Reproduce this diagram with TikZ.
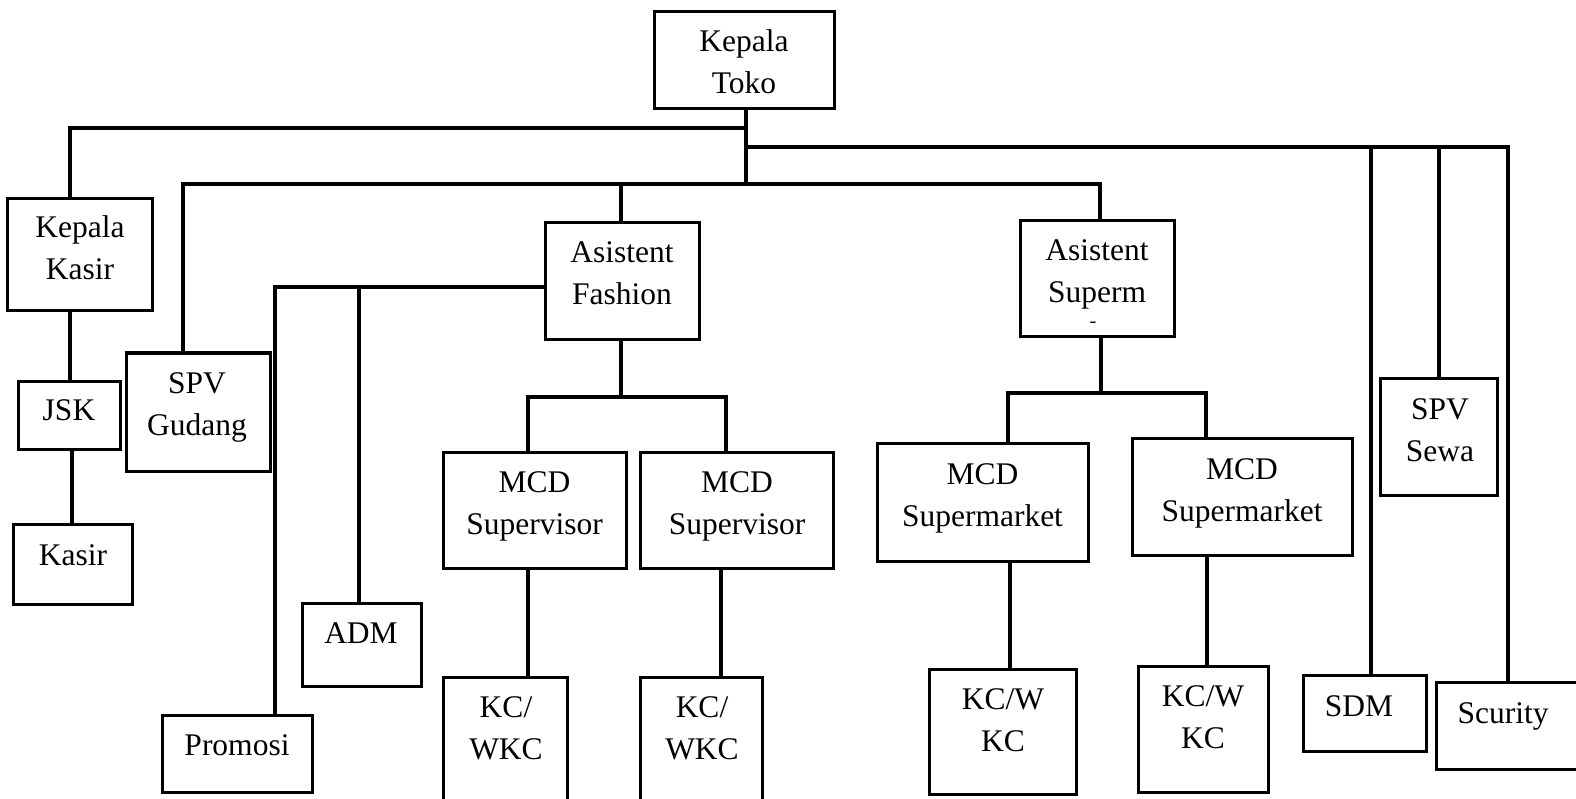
\documentclass[tikz,border=0pt]{standalone}
\usepackage{fontspec}
\setmainfont{Liberation Serif}
\begin{document}
\begin{tikzpicture}[x=1pt,y=-1pt,
  box/.style={draw=black, line width=3pt, inner sep=0pt, fill=none},
  conn/.style={draw=black, line width=4pt},
  txt/.style={inner sep=0pt, anchor=base, align=center, text width=260pt,
    font=\fontsize{31.5}{42}\selectfont},
  dashtxt/.style={inner sep=0pt, font=\fontsize{20}{20}\selectfont}]
\useasboundingbox (0,0) rectangle (1576,799);
\fill[white] (0,0) rectangle (1576,799);
\clip (0,0) rectangle (1576,799);

% boxes
\node[box, minimum width=180, minimum height=97]  (kt)   at (744,60.5)   {};
\node[box, minimum width=145, minimum height=112] (kk)   at (79.5,255)   {};
\node[box, minimum width=102, minimum height=68]  (jsk)  at (69,415)     {};
\node[box, minimum width=119, minimum height=80]  (ks)   at (72.5,564)   {};
\node[box, minimum width=144, minimum height=118] (spvg) at (198,412)    {};
\node[box, minimum width=154, minimum height=117] (af)   at (622,281.5)  {};
\node[box, minimum width=154, minimum height=116] (as)   at (1097,279)   {};
\node[box, minimum width=119, minimum height=83]  (adm)  at (361.5,644.5){};
\node[box, minimum width=150, minimum height=77]  (pr)   at (237,753.5)  {};
\node[box, minimum width=183, minimum height=116] (ms1)  at (534.5,510)  {};
\node[box, minimum width=193, minimum height=116] (ms2)  at (736.5,510)  {};
\node[box, minimum width=211, minimum height=118] (mm1)  at (982.5,502)  {};
\node[box, minimum width=220, minimum height=117] (mm2)  at (1242,496.5) {};
\node[box, minimum width=124, minimum height=153] (kw1)  at (505,753.5)  {};
\node[box, minimum width=122, minimum height=153] (kw2)  at (701,753.5)  {};
\node[box, minimum width=147, minimum height=125] (kw3)  at (1002.5,731.5){};
\node[box, minimum width=130, minimum height=126] (kw4)  at (1203,729)   {};
\node[box, minimum width=117, minimum height=117] (spvs) at (1438.5,436.5){};
\node[box, minimum width=123, minimum height=76]  (sdm)  at (1364.5,713) {};
\node[box, minimum width=164, minimum height=87]  (sc)   at (1518,725.5) {};

% texts
\node[txt] (tkt)   at (744,52)    {Kepala\\Toko};
\node[txt] (tkk)   at (80,238)    {Kepala\\Kasir};
\node[txt] (tjsk)  at (69,420)    {JSK};
\node[txt] (tks)   at (73,565)    {Kasir};
\node[txt] (tspvg) at (197,393)   {SPV\\Gudang};
\node[txt] (taf)   at (622,263)   {Asistent\\Fashion};
\node[txt] (tas)   at (1097,261)  {Asistent\\Superm};
\node[dashtxt] (tdash) at (1093,325) {-};
\node[txt] (tadm)  at (361,643)   {ADM};
\node[txt] (tpr)   at (237,755)   {Promosi};
\node[txt] (tms1)  at (534.5,492) {MCD\\Supervisor};
\node[txt] (tms2)  at (737,492)   {MCD\\Supervisor};
\node[txt] (tmm1)  at (982.5,484) {MCD\\Supermarket};
\node[txt] (tmm2)  at (1242,479)  {MCD\\Supermarket};
\node[txt] (tkw1)  at (506,717)   {KC/\\WKC};
\node[txt] (tkw2)  at (702,717)   {KC/\\WKC};
\node[txt] (tkw3)  at (1003,709)  {KC/W\\KC};
\node[txt] (tkw4)  at (1203,706)  {KC/W\\KC};
\node[txt] (tspvs) at (1440,419)  {SPV\\Sewa};
\node[txt] (tsdm)  at (1359,716)  {SDM};
\node[txt] (tsc)   at (1503,723)  {Scurity};

% bus junctions
\coordinate (t128) at (746,128);
\coordinate (t147) at (746,147);
\coordinate (t184) at (746,184);
\coordinate (f397) at (621,397);
\coordinate (s393) at (1101,393);

% connectors from Kepala Toko
\draw[conn] ([xshift=2]kt.south) -- (t184);
\draw[conn] (t128) -| ([xshift=-9.5]kk.north);
\draw[conn] (t147) -| ([xshift=-10]sc.north);
\draw[conn] ([xshift=6.5]sdm.north) |- (t147);
\draw[conn] ([xshift=0.5]spvs.north) |- (t147);
\draw[conn] ([xshift=-15]spvg.north) |- (t184);
\draw[conn] (t184) -| ([xshift=2.5]as.north);
\draw[conn] ([xshift=-1]af.north) |- (t184);

% kasir chain
\draw[conn] ([xshift=-9.5]kk.south) -- ([xshift=1]jsk.north);
\draw[conn] ([xshift=3]jsk.south) -- ([xshift=-0.5]ks.north);

% fashion side
\draw[conn] ([yshift=-5.5]af.west) -| ([xshift=38]pr.north);
\draw[conn] ([xshift=-2.5]adm.north) |- ([yshift=-5.5]af.west);

% fashion down
\draw[conn] ([xshift=-1]af.south) -- (f397);
\draw[conn] ([xshift=-6.5]ms1.north) |- (f397) -| ([xshift=-11]ms2.north);
\draw[conn] ([xshift=-6.5]ms1.south) -- ([xshift=23]kw1.north);
\draw[conn] ([xshift=-15.5]ms2.south) -- ([xshift=20]kw2.north);

% supermarket down
\draw[conn] ([xshift=4]as.south) -- (s393);
\draw[conn] ([xshift=25.5]mm1.north) |- (s393) -| ([xshift=-36]mm2.north);
\draw[conn] ([xshift=27.5]mm1.south) -- ([xshift=7.5]kw3.north);
\draw[conn] ([xshift=-35]mm2.south) -- ([xshift=4]kw4.north);
\end{tikzpicture}
\end{document}
